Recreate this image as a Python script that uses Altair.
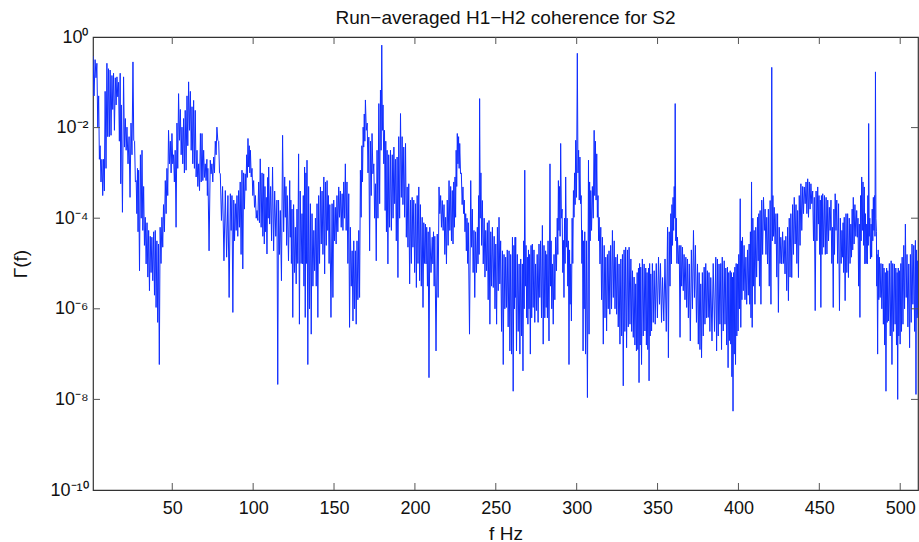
import altair as alt
import pandas as pd

# ---------------- text ----------------
TITLE = "Run−averaged H1−H2 coherence for S2"
X_TITLE = "f Hz"
Y_TITLE = "Γ(f)"

x_tick_values = [50, 100, 150, 200, 250, 300, 350, 400, 450, 500]
y_tick_values = [1e0, 1e-2, 1e-4, 1e-6, 1e-8, 1e-10]
y_tick_labels = ["10⁰", "10⁻²", "10⁻⁴", "10⁻⁶", "10⁻⁸", "10⁻¹⁰"]

# ---------------- data: (f Hz, log10 upper excursion, log10 lower excursion) ----------------
band_0_66 = [
    (1.0, -0.42, -1.3), (2.3, -0.5, -0.9), (3.4, -0.58, -2.0), (4.5, -1.3, -2.7), (5.4, -2.4, -3.2),
    (6.5, -2.7, -3.5), (7.5, -2.7, -3.4), (8.5, -1.2, -2.9), (9.6, -0.58, -2.2), (10.6, -0.7, -2.2),
    (11.6, -0.73, -2.17), (12.7, -0.85, -1.6), (13.7, -0.8, -2.06), (14.8, -0.9, -1.5), (15.8, -0.88, -1.32),
    (16.8, -1.0, -2.3), (17.8, -0.8, -3.24), (18.5, -1.5, -3.87), (19.9, -0.88, -2.43), (21.0, -1.8, -2.5),
    (22.0, -1.99, -2.8), (23.3, -2.2, -3.54), (24.5, -1.9, -2.6), (25.7, -0.55, -2.28), (26.7, -2.3, -3.2),
    (27.7, -3.17, -3.9), (28.5, -2.9, -4.3), (29.2, -2.94, -5.16), (30.3, -2.6, -4.0), (31.3, -2.5, -4.27),
    (32.3, -3.3, -4.6), (33.3, -3.98, -5.01), (34.4, -4.1, -5.3), (35.4, -4.27, -5.6), (36.4, -4.4, -5.2),
    (37.4, -4.42, -5.38), (38.5, -4.3, -5.7), (39.5, -4.27, -5.97), (40.5, -4.5, -6.3), (41.5, -4.57, -7.23),
    (42.5, -4.2, -5.0), (43.6, -3.98, -4.64), (44.6, -3.7, -4.3), (45.7, -3.17, -3.9), (46.7, -2.9, -3.5),
    (47.7, -2.06, -2.8), (48.8, -2.3, -3.0), (49.8, -2.13, -2.8), (50.8, -2.6, -3.2), (51.8, -2.5, -4.2),
    (52.9, -1.9, -2.9), (53.9, -1.25, -2.28), (55.0, -1.6, -2.6), (56.0, -1.99, -2.8), (57.0, -1.8, -3.0),
    (58.0, -1.62, -2.94), (59.1, -1.3, -2.4), (60.1, -0.99, -2.06), (61.2, -1.2, -2.5), (62.2, -1.54, -2.8),
    (63.2, -1.4, -2.9), (64.2, -1.62, -3.09), (65.3, -2.5, -3.3), (66.3, -2.8, -3.39),
]
band_67_132 = [
    (67.4, -2.13, -3.2), (68.4, -2.13, -3.17), (69.4, -2.5, -3.1), (70.4, -2.8, -3.17), (71.4, -2.7, -3.5),
    (72.0, -2.9, -4.72), (73.5, -2.72, -3.02), (74.5, -2.8, -3.2), (75.6, -2.65, -3.0), (76.6, -2.3, -2.6),
    (77.6, -1.99, -2.28), (78.7, -2.3, -3.0), (79.7, -3.02, -4.05), (81.1, -3.3, -4.94), (82.8, -3.39, -4.86),
    (84.4, -3.5, -5.75), (85.9, -3.46, -4.27), (86.9, -3.5, -6.08), (88.0, -3.6, -4.5), (89.0, -3.68, -4.27),
    (90.0, -3.5, -4.4), (91.0, -3.39, -4.2), (92.0, -3.2, -4.8), (93.1, -2.94, -5.12), (94.1, -3.0, -3.8),
    (95.1, -3.02, -3.39), (96.0, -2.6, -3.1), (96.8, -2.24, -2.87), (97.6, -2.4, -3.0), (98.3, -2.5, -3.09),
    (99.3, -2.9, -3.5), (100.3, -3.17, -3.76), (101.4, -3.5, -4.0), (102.4, -3.83, -4.05), (103.4, -3.2, -4.1),
    (104.4, -2.69, -4.2), (105.5, -3.0, -4.4), (106.5, -3.02, -4.57), (107.3, -3.3, -4.3), (108.1, -3.54, -4.79),
    (109.0, -3.1, -4.0), (109.6, -2.87, -4.13), (110.8, -3.3, -4.5), (112.0, -2.87, -4.72), (113.3, -3.4, -4.4),
    (114.7, -3.6, -7.67), (115.7, -3.6, -4.8), (116.8, -3.83, -5.38), (118.2, -2.17, -4.3), (119.5, -3.09, -3.98),
    (120.3, -3.3, -4.6), (121.1, -3.5, -4.94), (122.6, -3.17, -4.42), (123.3, -3.6, -5.0), (124.0, -3.8, -6.19),
    (125.0, -3.7, -5.2), (126.1, -4.2, -5.45), (127.1, -3.8, -5.0), (128.1, -2.58, -6.34), (129.1, -3.4, -5.0),
    (130.2, -3.9, -5.01), (131.0, -3.5, -5.5), (131.8, -2.87, -6.19),
]
band_133_196 = [
    (132.6, -3.0, -5.0), (133.3, -2.72, -7.23), (134.3, -3.3, -6.0), (135.4, -3.68, -6.56), (136.4, -3.9, -5.5),
    (137.5, -4.27, -5.16), (138.5, -4.0, -5.5), (139.5, -3.68, -6.19), (140.5, -3.5, -5.0), (141.6, -3.31, -4.57),
    (142.6, -3.4, -4.8), (143.7, -3.09, -5.23), (144.7, -3.2, -4.6), (145.7, -3.17, -4.27), (146.5, -3.5, -5.0),
    (147.4, -3.7, -6.19), (148.8, -3.68, -5.75), (149.8, -3.6, -4.5), (150.8, -3.76, -4.57), (151.8, -3.5, -4.3),
    (152.9, -3.31, -3.98), (153.9, -3.4, -4.2), (155.0, -3.46, -4.27), (156.0, -3.2, -4.0), (157.0, -2.8, -4.27),
    (158.0, -3.2, -5.0), (159.1, -3.46, -6.41), (160.1, -4.2, -5.5), (161.2, -4.72, -6.27), (162.2, -4.5, -6.0),
    (163.2, -4.72, -6.34), (164.2, -4.5, -5.8), (165.3, -4.27, -5.75), (166.3, -2.94, -3.98), (167.2, -2.4, -3.2),
    (168.0, -1.99, -2.43), (168.7, -1.7, -2.3), (169.4, -1.39, -2.06), (170.5, -1.9, -3.0), (171.5, -2.21, -4.72),
    (172.5, -2.3, -3.5), (173.5, -2.13, -3.02), (174.6, -2.8, -4.0), (175.6, -3.24, -4.94), (176.6, -2.5, -4.0),
    (177.7, -1.47, -3.68), (178.7, -1.17, -2.5), (179.5, -0.18, -2.06), (180.3, -1.5, -2.8), (181.2, -2.06, -3.83),
    (182.0, -2.3, -4.3), (182.8, -2.5, -5.01), (183.8, -2.6, -4.2), (184.9, -2.5, -4.27), (186.0, -2.6, -4.0),
    (187.0, -2.43, -3.68), (188.0, -2.7, -4.5), (189.0, -2.65, -5.31), (190.0, -2.2, -4.0), (191.1, -1.69, -3.54),
    (192.1, -2.2, -3.7), (193.1, -2.43, -3.98), (194.2, -2.35, -4.42), (195.2, -3.31, -4.64), (196.2, -3.24, -5.45),
]
band_197_262 = [
    (197.3, -3.6, -5.0), (198.3, -3.54, -4.64), (199.3, -3.6, -5.2), (200.4, -3.68, -5.53), (201.4, -3.5, -5.0),
    (202.4, -3.31, -5.38), (203.4, -3.7, -5.5), (204.5, -3.98, -5.97), (205.5, -4.1, -5.0), (206.5, -4.13, -5.01),
    (207.3, -4.2, -5.5), (208.2, -4.3, -7.52), (209.2, -4.2, -5.2), (210.7, -4.42, -5.01), (211.5, -4.3, -5.5),
    (212.3, -4.4, -6.93), (213.8, -4.35, -5.75), (214.9, -3.31, -3.9), (215.9, -3.5, -4.2), (216.9, -3.61, -4.27),
    (218.0, -3.7, -4.8), (219.0, -3.98, -5.01), (220.0, -3.6, -4.6), (221.1, -3.17, -4.27), (222.1, -3.3, -4.5),
    (223.1, -3.39, -4.57), (224.0, -3.2, -4.2), (224.8, -3.09, -3.98), (225.5, -2.5, -3.3), (226.2, -2.13, -2.8),
    (227.0, -2.2, -2.9), (227.7, -2.35, -3.02), (228.7, -3.0, -3.7), (229.7, -3.31, -3.9), (230.5, -3.6, -4.3),
    (231.4, -3.9, -4.72), (232.2, -4.0, -5.0), (233.0, -4.1, -6.56), (234.5, -3.17, -4.64), (235.5, -3.8, -5.2),
    (236.5, -4.27, -5.75), (237.5, -4.3, -5.2), (238.6, -4.2, -5.01), (239.4, -3.5, -4.8), (240.0, -1.36, -4.0),
    (240.8, -3.0, -4.6), (241.7, -3.61, -5.01), (242.8, -4.0, -5.3), (243.8, -4.27, -5.16), (244.8, -4.1, -5.8),
    (245.8, -4.05, -6.34), (246.9, -4.3, -5.5), (247.9, -4.2, -5.53), (249.0, -4.4, -6.0), (250.0, -4.57, -6.34),
    (251.0, -4.2, -5.6), (252.0, -3.98, -5.45), (253.0, -4.5, -6.5), (254.1, -4.72, -7.23), (255.1, -4.8, -6.0),
    (256.1, -4.86, -5.97), (257.1, -4.7, -6.4), (258.2, -4.72, -6.93), (259.2, -4.8, -7.0), (260.3, -4.42, -7.82),
    (261.2, -4.6, -6.0), (261.9, -4.42, -5.75),
]
band_262_326 = [
    (262.3, -4.42, -6.93), (263.3, -4.8, -6.5), (264.4, -5.01, -7.0), (265.4, -4.9, -6.6), (266.4, -5.01, -7.37),
    (267.2, -4.5, -6.0), (267.9, -2.94, -5.5), (268.7, -4.6, -6.2), (269.5, -4.86, -6.34), (270.2, -4.7, -6.0),
    (270.9, -4.8, -7.0), (271.8, -4.6, -6.2), (272.6, -4.57, -5.97), (273.6, -4.7, -6.3), (274.6, -5.01, -6.04),
    (275.6, -4.8, -6.3), (276.7, -4.57, -5.75), (277.7, -4.5, -6.2), (278.8, -4.16, -6.78), (279.8, -4.6, -6.2),
    (280.8, -4.72, -5.97), (281.5, -4.8, -6.2), (282.3, -4.5, -6.71), (283.5, -2.8, -5.5), (284.2, -4.5, -6.0),
    (285.0, -5.01, -6.34), (286.0, -4.8, -5.8), (287.0, -4.42, -5.16), (288.0, -4.0, -4.8), (288.7, -3.17, -4.27),
    (289.4, -3.3, -4.4), (290.1, -2.35, -4.0), (291.0, -3.8, -5.2), (291.8, -4.49, -5.75), (292.5, -4.0, -5.0),
    (293.2, -3.09, -4.64), (294.1, -4.0, -5.5), (294.9, -4.5, -7.23), (295.6, -4.7, -5.9), (296.3, -5.01, -6.27),
    (297.2, -4.0, -5.0), (298.0, -3.39, -3.98), (298.7, -3.0, -3.7), (299.4, -2.28, -3.54), (300.4, -0.36, -3.0),
    (301.2, -2.5, -3.6), (302.0, -2.65, -3.68), (302.8, -3.5, -5.0), (303.6, -4.27, -6.93), (304.3, -4.5, -6.0),
    (305.0, -4.3, -7.0), (306.0, -4.5, -7.96), (307.3, -2.72, -6.56), (308.0, -3.2, -4.5), (308.7, -3.39, -4.27),
    (309.7, -3.3, -4.0), (310.8, -2.06, -3.5), (311.6, -2.3, -3.6), (312.4, -2.58, -3.98), (313.2, -3.5, -4.5),
    (313.9, -3.98, -5.01), (314.9, -4.2, -5.8), (315.9, -4.42, -6.78), (317.0, -4.6, -6.2), (318.0, -4.86, -6.49),
    (319.0, -4.8, -6.0), (320.0, -4.72, -6.12), (321.0, -4.6, -6.0), (322.1, -4.27, -5.75), (323.2, -4.5, -6.0),
    (324.2, -4.86, -6.12), (325.2, -4.8, -6.4), (326.2, -5.01, -6.78),
]
band_327_390 = [
    (327.3, -4.9, -6.6), (328.3, -4.8, -7.7), (329.3, -4.7, -6.5), (330.3, -4.64, -6.86), (331.4, -4.7, -6.4),
    (332.4, -4.64, -6.34), (333.5, -4.9, -6.5), (334.5, -5.16, -6.63), (335.5, -5.3, -6.8), (336.5, -5.45, -6.93),
    (337.4, -5.2, -6.9), (338.2, -5.1, -7.63), (338.9, -5.0, -6.8), (339.6, -5.08, -7.23), (340.6, -4.9, -6.6),
    (341.7, -5.01, -6.49), (342.7, -5.1, -6.8), (343.5, -5.2, -6.9), (344.4, -5.1, -7.59), (345.1, -5.0, -6.6),
    (345.8, -5.23, -6.49), (346.8, -5.0, -6.3), (347.9, -5.16, -6.34), (349.2, -5.0, -6.2), (350.6, -4.86, -5.9),
    (351.8, -5.0, -6.3), (353.1, -5.31, -6.27), (354.6, -4.9, -6.5), (356.2, -4.2, -7.08), (357.2, -4.3, -5.5),
    (358.2, -3.9, -5.01), (358.9, -3.7, -4.6), (359.6, -3.54, -4.27), (360.3, -3.3, -4.0), (360.9, -1.47, -4.5),
    (361.6, -4.0, -5.0), (362.3, -4.42, -5.01), (363.4, -4.6, -6.63), (364.4, -4.6, -5.5), (365.4, -4.64, -5.6),
    (366.4, -4.8, -5.8), (367.5, -4.86, -5.97), (368.5, -4.9, -6.2), (369.6, -5.01, -6.71), (370.9, -4.7, -6.0),
    (372.2, -4.27, -5.75), (373.4, -4.6, -6.3), (374.7, -5.01, -6.78), (375.7, -5.2, -6.9), (376.7, -5.45, -7.08),
    (377.7, -5.2, -6.6), (378.8, -5.08, -6.34), (379.8, -5.0, -6.2), (380.8, -5.16, -6.19), (381.8, -5.2, -6.5),
    (382.9, -5.31, -6.71), (384.4, -5.0, -6.5), (386.0, -4.86, -6.93), (387.0, -4.9, -6.6), (388.0, -5.01, -6.34),
    (389.1, -5.0, -6.9), (390.0, -4.86, -6.49),
]
band_391_456 = [
    (391.2, -4.94, -6.34), (392.2, -5.1, -6.8), (393.2, -5.08, -7.3), (394.0, -5.2, -6.7), (394.9, -5.16, -6.78),
    (395.6, -5.2, -7.5), (396.3, -5.3, -8.26), (397.0, -5.2, -7.0), (397.8, -5.08, -7.23), (398.6, -5.0, -6.6),
    (399.4, -5.01, -6.49), (400.2, -4.8, -6.0), (401.1, -3.57, -6.41), (401.8, -4.5, -5.8), (402.5, -4.42, -5.6),
    (403.5, -4.6, -5.8), (404.6, -4.86, -5.9), (405.6, -4.7, -5.7), (406.6, -4.57, -5.9), (407.4, -4.3, -6.2),
    (408.1, -3.2, -6.41), (408.9, -4.0, -5.5), (409.7, -4.27, -5.9), (410.7, -4.2, -5.3), (411.8, -3.98, -4.94),
    (412.6, -3.9, -5.5), (413.4, -3.83, -5.9), (414.4, -3.6, -4.8), (415.5, -3.54, -4.27), (416.5, -3.8, -4.8),
    (417.5, -3.98, -5.01), (418.5, -3.8, -5.5), (419.6, -3.61, -5.9), (420.6, -0.67, -4.5), (421.3, -3.5, -4.4),
    (422.1, -3.76, -4.57), (423.2, -3.9, -5.3), (424.2, -3.9, -6.08), (425.2, -4.2, -5.0), (426.2, -4.42, -5.01),
    (427.3, -4.3, -5.0), (428.3, -4.49, -5.23), (429.3, -4.4, -5.6), (430.4, -4.2, -5.82), (431.4, -4.0, -5.3),
    (432.4, -3.9, -5.31), (433.5, -3.7, -4.8), (434.5, -3.54, -4.57), (435.6, -3.7, -5.0), (436.6, -3.83, -5.31),
    (437.6, -3.5, -4.6), (438.6, -3.24, -4.27), (439.7, -3.3, -3.9), (440.7, -3.31, -3.68), (441.8, -3.2, -3.9),
    (442.8, -3.13, -3.98), (443.8, -3.2, -3.8), (444.8, -3.24, -3.68), (445.9, -3.4, -4.5), (446.9, -3.54, -6.04),
    (448.0, -3.4, -4.5), (449.0, -3.31, -4.13), (449.8, -3.5, -4.8), (450.6, -3.6, -5.97), (451.3, -3.5, -4.8),
    (452.1, -3.46, -4.64), (453.2, -3.5, -4.8), (454.2, -3.54, -4.79), (455.2, -3.6, -4.5), (456.2, -3.76, -4.27),
]
band_457_512 = [
    (457.2, -3.6, -5.0), (458.2, -4.2, -5.97), (459.0, -3.8, -4.8), (459.8, -3.46, -4.27), (460.8, -3.6, -5.0),
    (461.9, -3.68, -6.04), (463.0, -4.0, -5.0), (464.0, -4.27, -4.86), (464.7, -4.1, -5.2), (465.4, -3.98, -5.82),
    (466.5, -3.9, -5.2), (467.5, -3.9, -5.31), (468.5, -4.0, -5.0), (469.5, -4.13, -4.86), (470.3, -3.8, -4.7),
    (471.0, -3.54, -4.57), (472.0, -3.7, -4.4), (473.1, -3.83, -4.42), (473.9, -4.0, -5.5), (474.7, -4.13, -6.19),
    (475.5, -3.5, -4.5), (476.2, -3.09, -4.27), (477.0, -3.2, -4.6), (477.8, -3.31, -5.01), (478.5, -3.9, -5.0),
    (479.3, -4.13, -5.01), (480.0, -3.5, -4.6), (480.5, -1.91, -4.4), (481.2, -4.0, -4.9), (482.0, -4.13, -4.86),
    (482.7, -3.8, -4.5), (483.4, -3.54, -4.27), (484.1, -3.5, -4.4), (484.7, -0.77, -4.0), (485.3, -4.3, -5.5),
    (485.7, -4.8, -7.0), (486.4, -4.7, -5.8), (487.1, -4.86, -5.75), (488.1, -5.0, -6.0), (489.2, -5.01, -6.34),
    (490.0, -5.1, -6.8), (490.8, -5.2, -7.82), (491.6, -5.1, -6.3), (492.3, -5.16, -6.27), (493.3, -5.0, -6.6),
    (494.4, -4.94, -7.23), (495.4, -5.0, -6.5), (496.4, -5.01, -6.34), (497.3, -5.1, -6.8), (498.1, -5.2, -8.0),
    (498.8, -5.1, -6.6), (499.5, -5.16, -6.78), (500.4, -5.0, -6.5), (501.2, -4.86, -6.34), (502.2, -4.6, -6.0),
    (503.2, -4.13, -5.75), (504.2, -4.8, -6.4), (505.3, -5.01, -6.86), (506.3, -4.8, -6.3), (507.3, -4.57, -5.9),
    (508.4, -4.6, -6.5), (509.4, -4.49, -7.89), (510.1, -4.7, -6.2), (510.8, -4.94, -6.12), (511.5, -4.8, -6.3),
]

# ---------------- styling ----------------
PLOT_W, PLOT_H = 825, 453
LINE_COLOR = "#0f2dff"
FRAME_COLOR = "#333333"
TICK_COLOR = "#555555"
TEXT_COLOR = "#111111"
FONT = "Liberation Sans"
TICK_LEN = 7

rows = (band_0_66 + band_67_132 + band_133_196 + band_197_262 + band_262_326
        + band_327_390 + band_391_456 + band_457_512)

# each reading contributes its upper excursion, then its lower excursion half-way to the next reading
fs, gs = [], []
for k, (f, top, bot) in enumerate(rows):
    nxt = rows[k + 1][0] if k + 1 < len(rows) else f + 0.8
    fs.append(f)
    gs.append(10 ** top)
    fs.append((f + nxt) / 2)
    gs.append(10 ** bot)
df = pd.DataFrame({"i": range(len(fs)), "f": fs, "gamma": gs})

xs = alt.Scale(domain=[1, 511], nice=False, zero=False)
ys = alt.Scale(type="log", domain=[1e-10, 1], nice=False)

# label expression built from the tick label list
pairs = sorted(zip(y_tick_values, y_tick_labels), reverse=True)
label_expr = " : ".join(f"datum.value > {v * 0.3:.3e} ? '{lab}'" for v, lab in pairs) + " : ''"

common_axis = dict(domain=False, ticks=False, tickSize=0, grid=False,
                   labelFont=FONT, labelFontSize=18, labelColor=TEXT_COLOR,
                   titleFont=FONT, titleFontSize=19, titleFontWeight="normal", titleColor=TEXT_COLOR)
x_axis = alt.Axis(values=x_tick_values, title=X_TITLE, labelPadding=9,
                  titleX=PLOT_W / 2, titleY=43, titleBaseline="middle", titleAlign="center", **common_axis)
y_axis = alt.Axis(values=y_tick_values, labelExpr=label_expr, title=Y_TITLE, labelPadding=5,
                  titleX=-73, titleY=PLOT_H / 2, titleAngle=270, titleBaseline="middle", titleAlign="center",
                  **common_axis)

line = alt.Chart(df).mark_line(color=LINE_COLOR, strokeWidth=1.0, clip=True).encode(
    x=alt.X("f:Q", scale=xs, axis=x_axis),
    y=alt.Y("gamma:Q", scale=ys, axis=y_axis),
    order="i:Q",
)

xt = pd.DataFrame({"f": x_tick_values})
yt = pd.DataFrame({"gamma": y_tick_values[1:-1]})

bottom_ticks = alt.Chart(xt).mark_rule(color=TICK_COLOR, strokeWidth=1).encode(
    x=alt.X("f:Q", scale=xs, axis=x_axis), y=alt.value(PLOT_H), y2=alt.value(PLOT_H - TICK_LEN))
top_ticks = alt.Chart(xt).mark_rule(color=TICK_COLOR, strokeWidth=1).encode(
    x=alt.X("f:Q", scale=xs, axis=x_axis), y=alt.value(0), y2=alt.value(TICK_LEN))
left_ticks = alt.Chart(yt).mark_rule(color=TICK_COLOR, strokeWidth=1).encode(
    y=alt.Y("gamma:Q", scale=ys, axis=y_axis), x=alt.value(0), x2=alt.value(TICK_LEN))
right_ticks = alt.Chart(yt).mark_rule(color=TICK_COLOR, strokeWidth=1).encode(
    y=alt.Y("gamma:Q", scale=ys, axis=y_axis), x=alt.value(PLOT_W), x2=alt.value(PLOT_W - TICK_LEN))

chart = alt.layer(line, bottom_ticks, top_ticks, left_ticks, right_ticks).properties(
    width=PLOT_W, height=PLOT_H,
    title=alt.TitleParams(TITLE, frame="group", anchor="middle", offset=9, dy=9,
                          fontSize=19, font=FONT, fontWeight="normal", color=TEXT_COLOR),
    autosize=alt.AutoSizeParams(type="none"),
    padding={"left": 93, "top": 37, "right": 1, "bottom": 52},
    background="white",
).configure_view(
    stroke=FRAME_COLOR, strokeWidth=1.2
)

chart.save("out.html", embed_options={"renderer": "svg", "actions": False})
